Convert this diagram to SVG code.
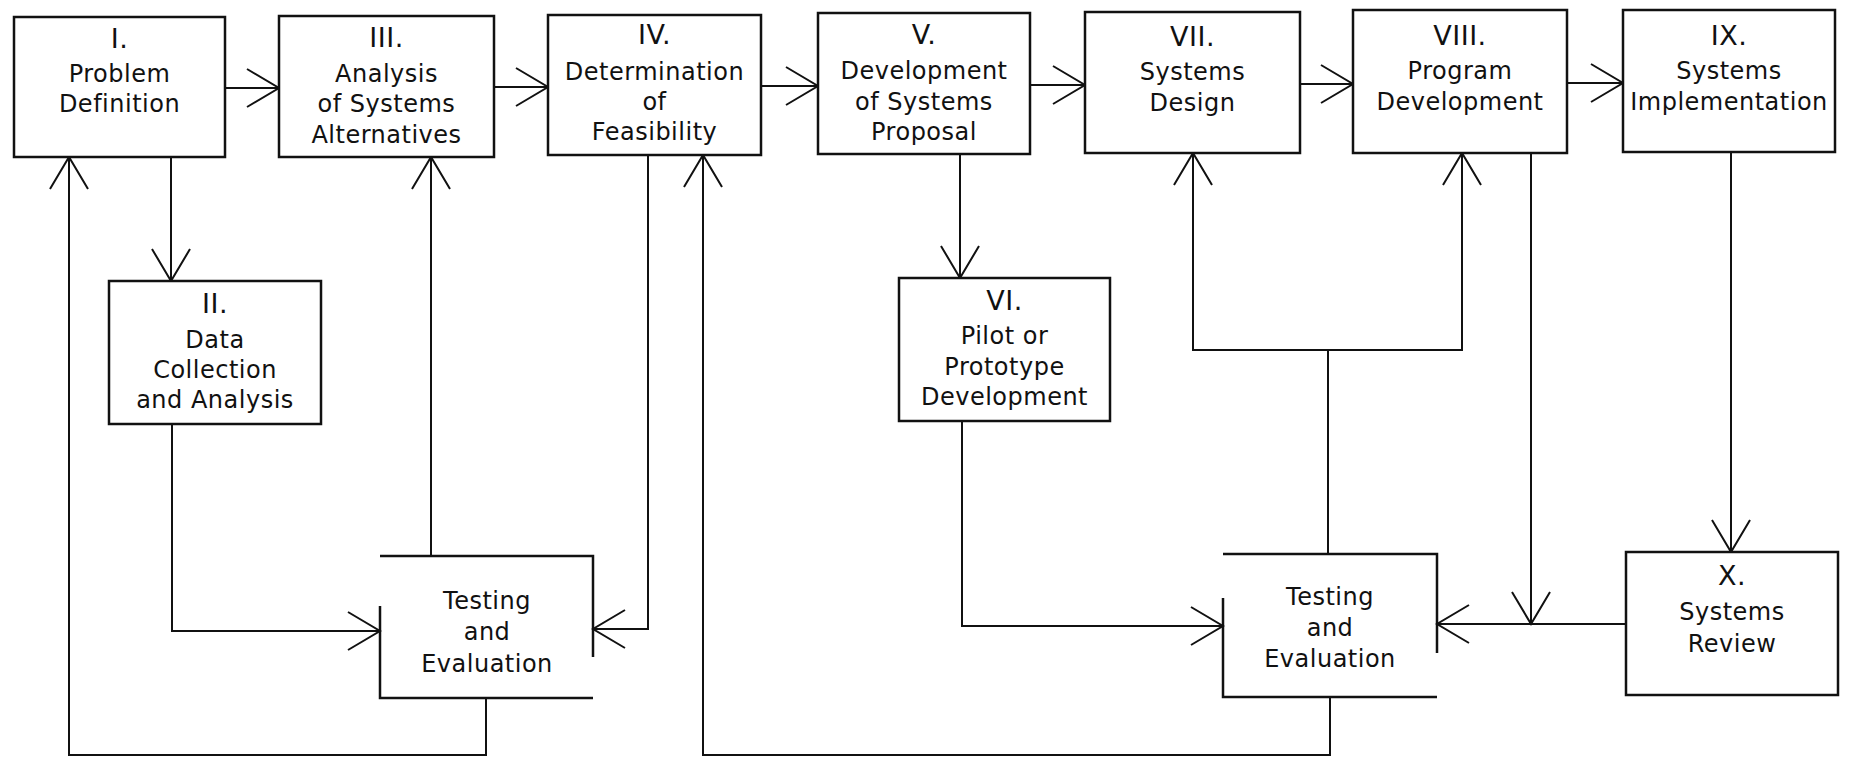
<svg xmlns="http://www.w3.org/2000/svg" width="1851" height="758" viewBox="0 0 1851 758">
<style>
.box{fill:#fff;stroke:#111;stroke-width:2.5}
.ob{fill:none;stroke:#111;stroke-width:2.5}
.c{fill:none;stroke:#111;stroke-width:2}
text{font-family:"DejaVu Sans","Open Sans",sans-serif;font-size:24px;fill:#111;text-anchor:middle;letter-spacing:0.5px}
.n{font-size:27px}
</style>
<defs>
<marker id="ah" viewBox="-34 -22 36 44" refX="0" refY="0" markerWidth="36" markerHeight="44" markerUnits="userSpaceOnUse" orient="auto">
<path d="M-32,-19 L0,0 L-32,19" fill="none" stroke="#111" stroke-width="2"/>
</marker>
</defs>
<rect width="1851" height="758" fill="#fff"/>
<g id="connectors">
<path class="c" d="M225,88 H279" marker-end="url(#ah)"/>
<path class="c" d="M494,87 H548" marker-end="url(#ah)"/>
<path class="c" d="M761,86 H818" marker-end="url(#ah)"/>
<path class="c" d="M1030,85 H1085" marker-end="url(#ah)"/>
<path class="c" d="M1300,84 H1353" marker-end="url(#ah)"/>
<path class="c" d="M1567,83 H1623" marker-end="url(#ah)"/>
<path class="c" d="M171,157 V281" marker-end="url(#ah)"/>
<path class="c" d="M172,424 V631 H380" marker-end="url(#ah)"/>
<path class="c" d="M431,556 V157" marker-end="url(#ah)"/>
<path class="c" d="M648,155 V629 H593" marker-end="url(#ah)"/>
<path class="c" d="M486,698 V755 H69 V157" marker-end="url(#ah)"/>
<path class="c" d="M960,154 V278" marker-end="url(#ah)"/>
<path class="c" d="M962,421 V626 H1223" marker-end="url(#ah)"/>
<path class="c" d="M1328,554 V350"/>
<path class="c" d="M1328,350 H1193 V153" marker-end="url(#ah)"/>
<path class="c" d="M1328,350 H1462 V153" marker-end="url(#ah)"/>
<path class="c" d="M1330,697 V755 H703 V155" marker-end="url(#ah)"/>
<path class="c" d="M1531,153 V624" marker-end="url(#ah)"/>
<path class="c" d="M1731,152 V552" marker-end="url(#ah)"/>
<path class="c" d="M1626,624 H1437" marker-end="url(#ah)"/>
</g>
<g id="node-I">
<rect class="box" x="14" y="17" width="211" height="140"/>
<text class="n" x="119.5" y="48">I.</text>
<text x="119.5" y="82">Problem</text>
<text x="119.5" y="112">Definition</text>
</g>
<g id="node-III">
<rect class="box" x="279" y="16" width="215" height="141"/>
<text class="n" x="386.5" y="47">III.</text>
<text x="386.5" y="82">Analysis</text>
<text x="386.5" y="112">of Systems</text>
<text x="386.5" y="143">Alternatives</text>
</g>
<g id="node-IV">
<rect class="box" x="548" y="15" width="213" height="140"/>
<text class="n" x="654.5" y="44">IV.</text>
<text x="654.5" y="80">Determination</text>
<text x="654.5" y="110">of</text>
<text x="654.5" y="140">Feasibility</text>
</g>
<g id="node-V">
<rect class="box" x="818" y="13" width="212" height="141"/>
<text class="n" x="924" y="44">V.</text>
<text x="924" y="79">Development</text>
<text x="924" y="110">of Systems</text>
<text x="924" y="140">Proposal</text>
</g>
<g id="node-VII">
<rect class="box" x="1085" y="12" width="215" height="141"/>
<text class="n" x="1192.5" y="46">VII.</text>
<text x="1192.5" y="80">Systems</text>
<text x="1192.5" y="111">Design</text>
</g>
<g id="node-VIII">
<rect class="box" x="1353" y="10" width="214" height="143"/>
<text class="n" x="1460" y="45">VIII.</text>
<text x="1460" y="79">Program</text>
<text x="1460" y="110">Development</text>
</g>
<g id="node-IX">
<rect class="box" x="1623" y="10" width="212" height="142"/>
<text class="n" x="1729" y="45">IX.</text>
<text x="1729" y="79">Systems</text>
<text x="1729" y="110">Implementation</text>
</g>
<g id="node-II">
<rect class="box" x="109" y="281" width="212" height="143"/>
<text class="n" x="215" y="313">II.</text>
<text x="215" y="348">Data</text>
<text x="215" y="378">Collection</text>
<text x="215" y="408">and Analysis</text>
</g>
<g id="node-VI">
<rect class="box" x="899" y="278" width="211" height="143"/>
<text class="n" x="1004.5" y="310">VI.</text>
<text x="1004.5" y="344">Pilot or</text>
<text x="1004.5" y="375">Prototype</text>
<text x="1004.5" y="405">Development</text>
</g>
<g id="node-testing-1">
<path class="ob" d="M380,556 H593 V657 M380,606 V698 H593"/>
<text x="487" y="609">Testing</text>
<text x="487" y="640">and</text>
<text x="487" y="672">Evaluation</text>
</g>
<g id="node-testing-2">
<path class="ob" d="M1223,554 H1437 V653 M1223,598 V697 H1437"/>
<text x="1330" y="605">Testing</text>
<text x="1330" y="636">and</text>
<text x="1330" y="667">Evaluation</text>
</g>
<g id="node-X">
<rect class="box" x="1626" y="552" width="212" height="143"/>
<text class="n" x="1732" y="585">X.</text>
<text x="1732" y="620">Systems</text>
<text x="1732" y="652">Review</text>
</g>
</svg>
